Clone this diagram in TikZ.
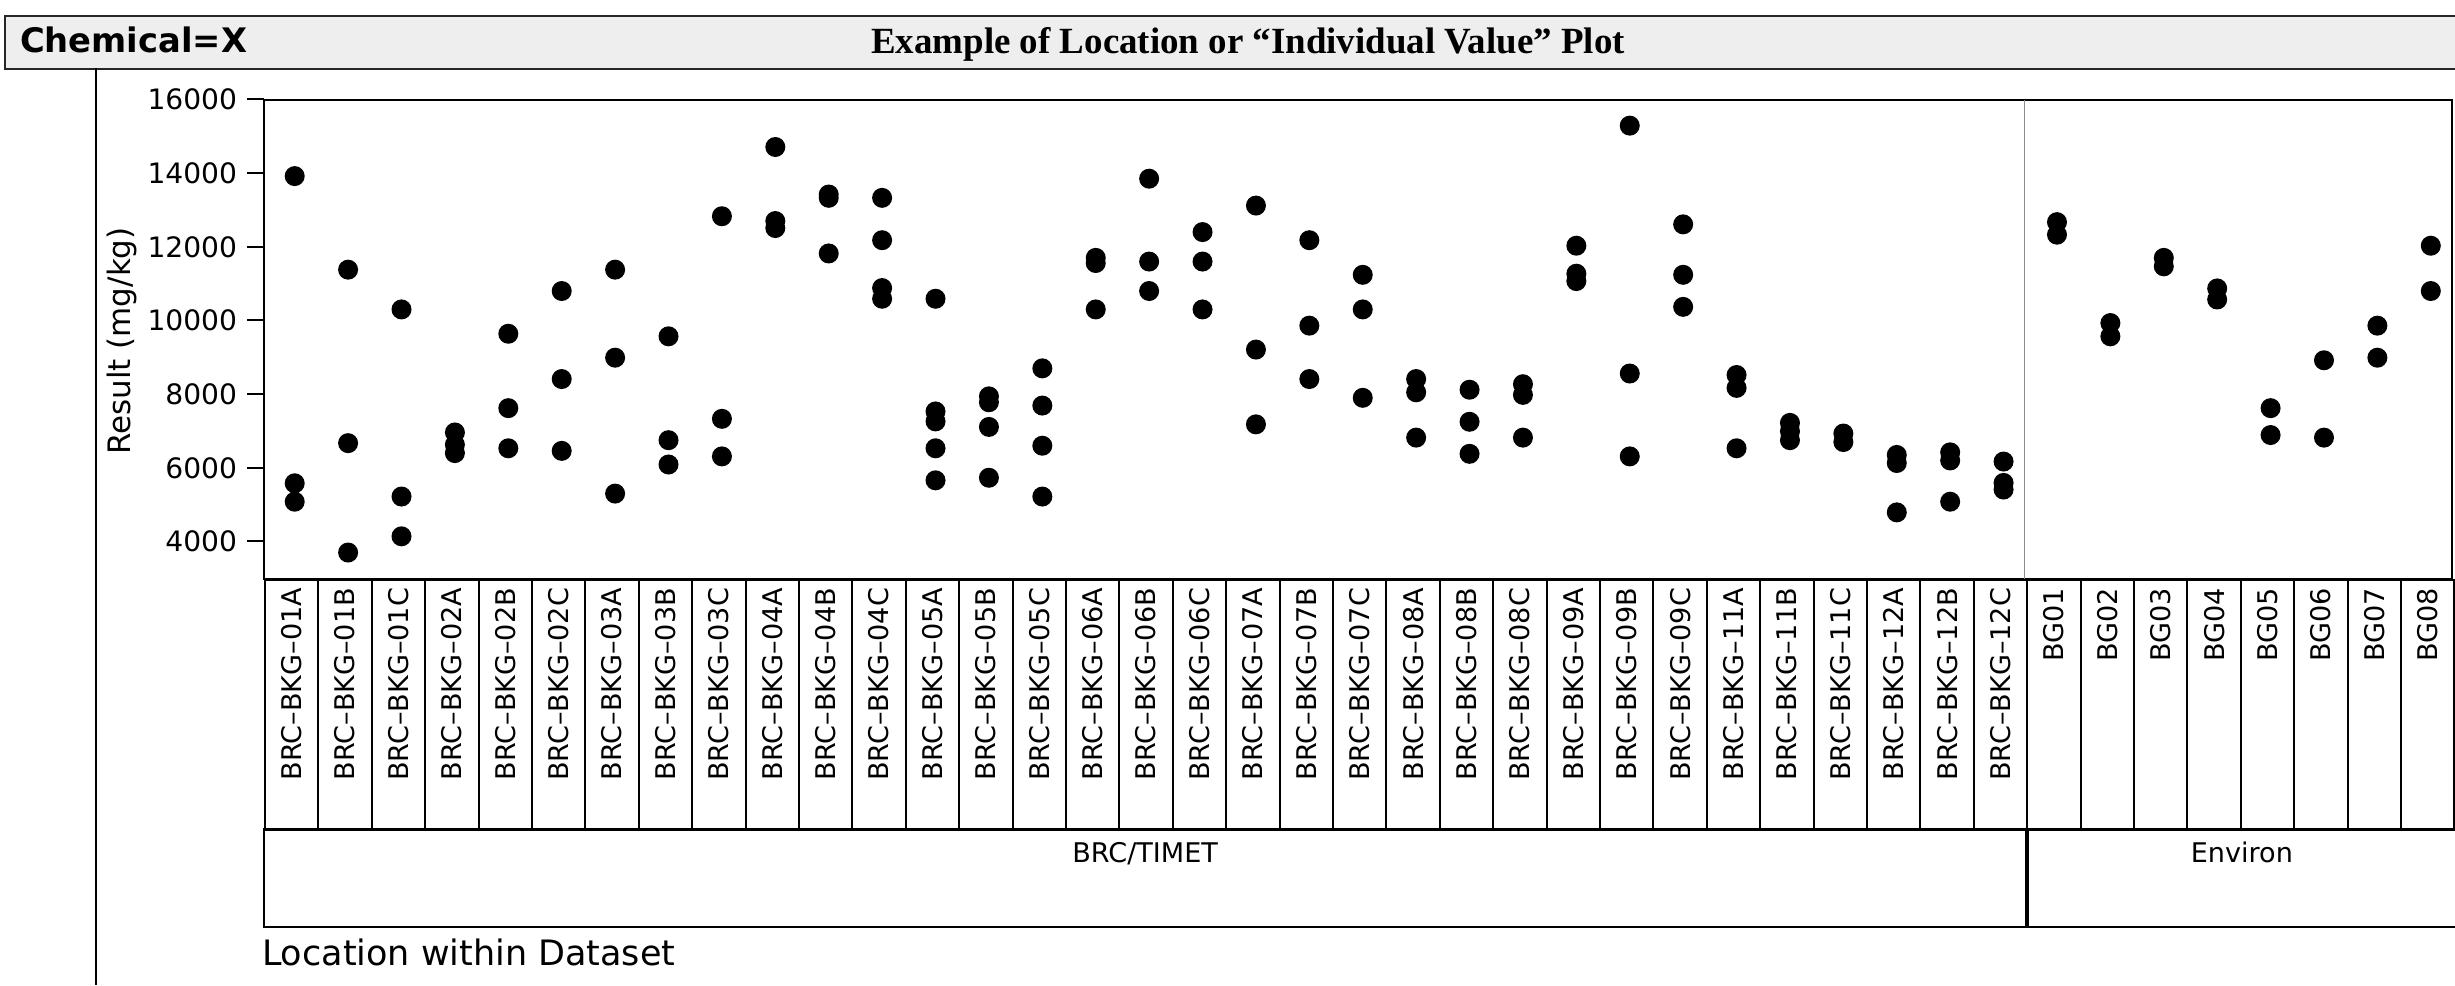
\documentclass[tikz,border=0pt]{standalone}
\usepackage{fontspec}
\setmainfont{DejaVu Sans}
\newfontfamily\titlefont{Liberation Serif}
\usetikzlibrary{matrix,positioning}
\definecolor{headgray}{HTML}{EEEEEE}
\definecolor{rulegray}{HTML}{8C8C8C}

\begin{document}
\begin{tikzpicture}
  [
    x = 0.01cm,
    y = -0.01cm,
    line width = 0.57pt,
    every node/.style = {
      inner sep = 0pt,
    },
    header/.style = {
      draw = black!85,
      fill = headgray,
      minimum height = 0.53cm,
      anchor = north west,
    },
    cell/.style = {
      draw,
      rotate = 90,
      anchor = center,
      text width = 2.34cm,
      align = right,
      inner xsep = 0.08cm,
      inner ysep = 0pt,
      minimum height = 0.5337cm,
      font = \fontsize{7.7}{9}\selectfont,
    },
    groupbox/.style = {
      draw,
      minimum height = 0.98cm,
      anchor = north west,
    },
    grouplabel/.style = {
      font = \fontsize{7.7}{9}\selectfont,
    },
    ticklabel/.style = {
      anchor = east,
      inner sep = 0.09cm,
      font = \fontsize{8}{9}\selectfont,
    },
    datum/.style = {
      radius = 0.1cm,
    },
  ]

  \useasboundingbox (0,0) rectangle (2455,985);

  \node (head) [header, minimum width = 24.6cm] at (4,15) {};
  \node (chem) [anchor = base west, font = \bfseries\fontsize{9.6}{11}\selectfont] at (19,52.7) {Chemical=X};
  \node (title) [anchor = base, font = \titlefont\bfseries\fontsize{10.5}{12}\selectfont] at (1248,53.3) {Example of Location or “Individual Value” Plot};
  \draw (96,68) -- (96,985);

  \node (ylab) [rotate = 90, font = \fontsize{8.8}{10}\selectfont] at (122,341) {Result (mg/kg)};

  \draw (264,100) rectangle (2452,579);
  \draw [rulegray, line width = 0.3pt] (2024,100) -- (2024,579);

  \begin{scope}[shift = {(264,688.8)}, x = 0.01cm, y = 0.3681cm]
    \draw (0,4)  -- (-17,4)  node [ticklabel] {4000};
    \draw (0,6)  -- (-17,6)  node [ticklabel] {6000};
    \draw (0,8)  -- (-17,8)  node [ticklabel] {8000};
    \draw (0,10) -- (-17,10) node [ticklabel] {10000};
    \draw (0,12) -- (-17,12) node [ticklabel] {12000};
    \draw (0,14) -- (-17,14) node [ticklabel] {14000};
    \draw (0,16) -- (-17,16) node [ticklabel] {16000};
  \end{scope}

  \begin{scope}[shift = {(241.3,688.8)}, x = 0.5337cm, y = 0.3681cm]
    \fill (1,13.92) circle [datum] (1,5.58) circle [datum] (1,5.08) circle [datum];
    \fill (2,11.38) circle [datum] (2,6.67) circle [datum] (2,3.70) circle [datum];
    \fill (3,10.30) circle [datum] (3,5.22) circle [datum] (3,4.14) circle [datum];
    \fill (4,6.96) circle [datum] (4,6.63) circle [datum] (4,6.40) circle [datum];
    \fill (5,9.64) circle [datum] (5,7.62) circle [datum] (5,6.53) circle [datum];
    \fill (6,10.80) circle [datum] (6,8.41) circle [datum] (6,6.46) circle [datum];
    \fill (7,11.38) circle [datum] (7,8.99) circle [datum] (7,5.30) circle [datum];
    \fill (8,9.57) circle [datum] (8,6.75) circle [datum] (8,6.09) circle [datum];
    \fill (9,12.83) circle [datum] (9,7.33) circle [datum] (9,6.31) circle [datum];
    \fill (10,14.71) circle [datum] (10,12.70) circle [datum] (10,12.51) circle [datum];
    \fill (11,13.42) circle [datum] (11,13.33) circle [datum] (11,11.82) circle [datum];
    \fill (12,13.33) circle [datum] (12,12.18) circle [datum] (12,10.88) circle [datum] (12,10.59) circle [datum];
    \fill (13,10.59) circle [datum] (13,7.53) circle [datum] (13,7.26) circle [datum] (13,6.53) circle [datum] (13,5.66) circle [datum];
    \fill (14,7.94) circle [datum] (14,7.78) circle [datum] (14,7.11) circle [datum] (14,5.73) circle [datum];
    \fill (15,8.70) circle [datum] (15,7.69) circle [datum] (15,6.60) circle [datum] (15,5.22) circle [datum];
    \fill (16,11.70) circle [datum] (16,11.56) circle [datum] (16,10.30) circle [datum];
    \fill (17,13.85) circle [datum] (17,11.60) circle [datum] (17,10.80) circle [datum];
    \fill (18,12.40) circle [datum] (18,11.60) circle [datum] (18,10.30) circle [datum];
    \fill (19,13.12) circle [datum] (19,9.21) circle [datum] (19,7.18) circle [datum];
    \fill (20,12.18) circle [datum] (20,9.86) circle [datum] (20,8.41) circle [datum];
    \fill (21,11.24) circle [datum] (21,10.30) circle [datum] (21,7.90) circle [datum];
    \fill (22,8.41) circle [datum] (22,8.05) circle [datum] (22,6.82) circle [datum];
    \fill (23,8.12) circle [datum] (23,7.25) circle [datum] (23,6.38) circle [datum];
    \fill (24,8.27) circle [datum] (24,7.98) circle [datum] (24,6.82) circle [datum];
    \fill (25,12.03) circle [datum] (25,11.27) circle [datum] (25,11.07) circle [datum];
    \fill (26,15.29) circle [datum] (26,8.56) circle [datum] (26,6.31) circle [datum];
    \fill (27,12.61) circle [datum] (27,11.24) circle [datum] (27,10.37) circle [datum];
    \fill (28,8.52) circle [datum] (28,8.17) circle [datum] (28,6.53) circle [datum];
    \fill (29,7.22) circle [datum] (29,6.99) circle [datum] (29,6.75) circle [datum];
    \fill (30,6.93) circle [datum] (30,6.70) circle [datum];
    \fill (31,6.35) circle [datum] (31,6.13) circle [datum] (31,4.79) circle [datum];
    \fill (32,6.42) circle [datum] (32,6.20) circle [datum] (32,5.08) circle [datum];
    \fill (33,6.17) circle [datum] (33,5.59) circle [datum] (33,5.41) circle [datum];
    \fill (34,12.67) circle [datum] (34,12.33) circle [datum];
    \fill (35,9.93) circle [datum] (35,9.57) circle [datum];
    \fill (36,11.70) circle [datum] (36,11.47) circle [datum];
    \fill (37,10.87) circle [datum] (37,10.57) circle [datum];
    \fill (38,7.62) circle [datum] (38,6.89) circle [datum];
    \fill (39,8.92) circle [datum] (39,6.82) circle [datum];
    \fill (40,9.86) circle [datum] (40,8.99) circle [datum];
    \fill (41,12.03) circle [datum] (41,10.80) circle [datum];
  \end{scope}

  \matrix (locs) [
    matrix of nodes,
    nodes = {cell},
    column sep = -\pgflinewidth,
    inner sep = 0pt,
    matrix anchor = north west,
  ] at (263,578) {
    BRC–BKG–01A & BRC–BKG–01B & BRC–BKG–01C &
    BRC–BKG–02A & BRC–BKG–02B & BRC–BKG–02C &
    BRC–BKG–03A & BRC–BKG–03B & BRC–BKG–03C &
    BRC–BKG–04A & BRC–BKG–04B & BRC–BKG–04C &
    BRC–BKG–05A & BRC–BKG–05B & BRC–BKG–05C &
    BRC–BKG–06A & BRC–BKG–06B & BRC–BKG–06C &
    BRC–BKG–07A & BRC–BKG–07B & BRC–BKG–07C &
    BRC–BKG–08A & BRC–BKG–08B & BRC–BKG–08C &
    BRC–BKG–09A & BRC–BKG–09B & BRC–BKG–09C &
    BRC–BKG–11A & BRC–BKG–11B & BRC–BKG–11C &
    BRC–BKG–12A & BRC–BKG–12B & BRC–BKG–12C &
    BG01 & BG02 & BG03 & BG04 & BG05 & BG06 & BG07 & BG08 \\
  };

  \node (brcbox) [groupbox, minimum width = 17.612cm] at (263,828) {};
  \node (envbox) [groupbox, minimum width = 4.27cm] at (brcbox.north east) {};
  \node (brclab) [grouplabel, below = 0.13cm of brcbox.north] {BRC/TIMET};
  \node (envlab) [grouplabel, below = 0.13cm of envbox.north] {Environ};

  \node (xlab) [anchor = base west, font = \fontsize{9.95}{11}\selectfont] at (261,965) {Location within Dataset};

\end{tikzpicture}
\end{document}
